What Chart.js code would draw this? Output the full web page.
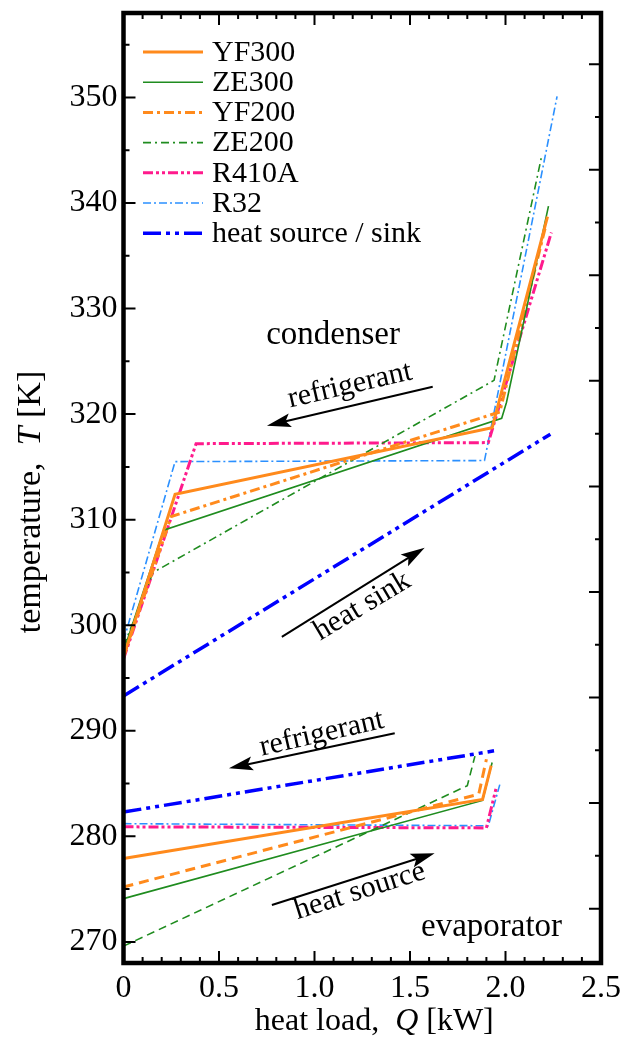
<!DOCTYPE html>
<html>
<head>
<meta charset="utf-8">
<script src="https://cdn.jsdelivr.net/npm/chart.js@4.4.1/dist/chart.umd.min.js"></script>
<style>
html, body { margin: 0; padding: 0; background: #fff; }
#wrap { width: 635px; height: 1043px; position: relative; }
</style>
</head>
<body>
<div id="wrap"><canvas id="myChart"></canvas></div>
<script>
const seriesNames = ['YF300', 'ZE300', 'YF200', 'ZE200', 'R410A', 'R32', 'heat source / sink'];

// condenser side, [Q kW, T K]
const yf300Cond = [[0, 297.0], [0.27, 312.4], [1.93, 318.7], [2.22, 338.7]];
const ze300Cond = [[0, 297.5], [0.21, 309.0], [1.98, 319.6], [2.005, 321.1], [2.225, 339.7]];
const yf200Cond = [[0, 297.0], [0.25, 310.3], [1.97, 320.2], [2.21, 337.8]];
const ze200Cond = [[0, 298.0], [0.155, 305.0], [1.94, 323.2], [2.19, 344.5]];
const r410aCond = [[0, 296.8], [0.38, 317.2], [1.91, 317.3], [2.24, 337.2]];
const r32Cond = [[0, 298.5], [0.27, 315.5], [1.89, 315.6], [2.27, 350.1]];
const sinkLine = [[0, 293.3], [2.235, 318.1]];

// evaporator side
const yf300Evap = [[0, 277.9], [1.88, 283.5], [1.925, 286.7]];
const ze300Evap = [[0, 274.1], [1.88, 283.4], [1.93, 287.0]];
const yf200Evap = [[0, 275.2], [1.86, 284.0], [1.90, 287.3]];
const ze200Evap = [[0, 269.6], [1.80, 284.8], [1.84, 287.6]];
const r410aEvap = [[0, 280.9], [1.90, 280.8], [1.95, 284.5]];
const r32Evap = [[0, 281.2], [1.91, 281.0], [1.97, 284.9]];
const sourceLine = [[0, 282.3], [1.94, 288.1]];

const xTicks = [0, 0.5, 1.0, 1.5, 2.0, 2.5];
const yTicks = [270, 280, 290, 300, 310, 320, 330, 340, 350];

const serif = '"Liberation Serif", "Times New Roman", serif';
const orange = '#ff8a1c', green = '#1f8c1f', pink = '#ff1a8c', sky = '#2b90ff', blue = '#0000ff';

function pts(arr) { return arr.map(p => ({x: p[0], y: p[1]})); }

function ds(label, arr, color, width, dash, inLegend) {
  return {
    label: label, data: pts(arr), borderColor: color, backgroundColor: color,
    borderWidth: width, borderDash: dash, showLine: true, pointRadius: 0,
    tension: 0, fill: false, inLegend: inLegend
  };
}

const datasets = [
  ds(seriesNames[0], yf300Cond, orange, 3, [], true),
  ds(seriesNames[1], ze300Cond, green, 1.6, [], true),
  ds(seriesNames[2], yf200Cond, orange, 3, [10, 4, 3, 4], true),
  ds(seriesNames[3], ze200Cond, green, 1.6, [8, 4, 2, 4], true),
  ds(seriesNames[4], r410aCond, pink, 3, [10, 3, 3, 3, 3, 3], true),
  ds(seriesNames[5], r32Cond, sky, 1.6, [8, 3, 2, 3], true),
  ds(seriesNames[6], sinkLine, blue, 3.5, [18, 5, 4, 5, 4, 5], true),
  ds(seriesNames[0], yf300Evap, orange, 3, [], false),
  ds(seriesNames[1], ze300Evap, green, 1.6, [], false),
  ds(seriesNames[2], yf200Evap, orange, 3, [10, 6], false),
  ds(seriesNames[3], ze200Evap, green, 1.6, [8, 5], false),
  ds(seriesNames[4], r410aEvap, pink, 3, [10, 3, 3, 3, 3, 3], false),
  ds(seriesNames[5], r32Evap, sky, 1.6, [8, 3, 2, 3], false),
  ds(seriesNames[6], sourceLine, blue, 3.5, [18, 5, 4, 5, 4, 5], false)
];

function richText(ctx, parts, cx, cy, size) {
  let total = 0;
  parts.forEach(p => {
    ctx.font = (p[1] ? 'italic ' : '') + size + 'px ' + serif;
    total += ctx.measureText(p[0]).width;
  });
  let x = cx - total / 2;
  ctx.textAlign = 'left';
  ctx.textBaseline = 'middle';
  parts.forEach(p => {
    ctx.font = (p[1] ? 'italic ' : '') + size + 'px ' + serif;
    ctx.fillText(p[0], x, cy);
    x += ctx.measureText(p[0]).width;
  });
}

function arrow(ctx, x1, y1, x2, y2) {
  const a = Math.atan2(y2 - y1, x2 - x1), c = Math.cos(a), s = Math.sin(a);
  const L = 24, W = 7;
  ctx.lineWidth = 2;
  ctx.beginPath();
  ctx.moveTo(x1, y1);
  ctx.lineTo(x2 - 16 * c, y2 - 16 * s);
  ctx.stroke();
  ctx.beginPath();
  ctx.moveTo(x2, y2);
  ctx.lineTo(x2 - L * c + W * s, y2 - L * s - W * c);
  ctx.lineTo(x2 - 0.8 * L * c, y2 - 0.8 * L * s);
  ctx.lineTo(x2 - L * c - W * s, y2 - L * s + W * c);
  ctx.closePath();
  ctx.fill();
}

const notes = [
  {text: 'condenser', q: 1.097, t: 327.5, rot: 0, size: 33},
  {text: 'refrigerant', q: 1.185, t: 322.7, rot: -13, size: 30},
  {text: 'heat sink', q: 1.25, t: 301.8, rot: -31, size: 30},
  {text: 'refrigerant', q: 1.038, t: 289.7, rot: -13, size: 30},
  {text: 'heat source', q: 1.237, t: 274.8, rot: -17.5, size: 30},
  {text: 'evaporator', q: 1.927, t: 271.4, rot: 0, size: 33}
];
const arrows = [
  [1.619, 322.6, 0.751, 318.9],
  [0.829, 298.9, 1.577, 307.35],
  [1.42, 289.76, 0.552, 286.45],
  [0.777, 273.5, 1.629, 278.4]
];

const decor = {
  id: 'decor',
  afterDraw(chart) {
    const ctx = chart.ctx, a = chart.chartArea;
    const xs = chart.scales.x, ys = chart.scales.y;
    ctx.save();
    ctx.strokeStyle = '#000';
    ctx.fillStyle = '#000';

    // inward ticks
    ctx.lineWidth = 2;
    ctx.beginPath();
    for (let i = 1; i < 25; i++) {
      const px = xs.getPixelForValue(i / 10);
      const len = i % 5 === 0 ? 12 : 6;
      ctx.moveTo(px, a.bottom); ctx.lineTo(px, a.bottom - len);
      ctx.moveTo(px, a.top); ctx.lineTo(px, a.top + len);
    }
    for (let v = 270; v < 358; v += 5) {
      const py = ys.getPixelForValue(v);
      const len = v % 10 === 0 ? 12 : 6;
      ctx.moveTo(a.left, py); ctx.lineTo(a.left + len, py);
    }
    for (let c = -5; c <= 85; c += 5) {
      const k = 273.15 + c;
      if (k <= 268.5 || k >= 357.5) continue;
      const py = ys.getPixelForValue(k);
      const len = c % 10 === 0 ? 12 : 6;
      ctx.moveTo(a.right, py); ctx.lineTo(a.right - len, py);
    }
    ctx.stroke();

    // frame
    ctx.lineWidth = 4.5;
    ctx.strokeRect(a.left, a.top, a.right - a.left, a.bottom - a.top);

    // axis titles
    richText(ctx, [['heat load,  ', false], ['Q', true], [' [kW]', false]],
      (a.left + a.right) / 2 + 12, 1022, 32);
    ctx.save();
    ctx.translate(31, 502);
    ctx.rotate(-Math.PI / 2);
    richText(ctx, [['temperature,  ', false], ['T', true], [' [K]', false]], 0, 0, 34);
    ctx.restore();

    // legend
    const legendItems = chart.data.datasets.filter(d => d.inLegend);
    legendItems.forEach((d, i) => {
      const y = 52 + i * 30.2;
      ctx.save();
      ctx.strokeStyle = d.borderColor;
      ctx.lineWidth = d.borderWidth;
      ctx.setLineDash(d.borderDash);
      ctx.beginPath();
      ctx.moveTo(143, y); ctx.lineTo(203, y);
      ctx.stroke();
      ctx.restore();
      ctx.font = '30px ' + serif;
      ctx.textAlign = 'left';
      ctx.textBaseline = 'middle';
      ctx.fillText(d.label, 212, y + 1);
    });

    // annotations
    arrows.forEach(r => arrow(ctx, xs.getPixelForValue(r[0]), ys.getPixelForValue(r[1]),
      xs.getPixelForValue(r[2]), ys.getPixelForValue(r[3])));
    notes.forEach(n => {
      ctx.save();
      ctx.translate(xs.getPixelForValue(n.q), ys.getPixelForValue(n.t));
      ctx.rotate(n.rot * Math.PI / 180);
      ctx.font = n.size + 'px ' + serif;
      ctx.textAlign = 'center';
      ctx.textBaseline = 'middle';
      ctx.fillText(n.text, 0, 0);
      ctx.restore();
    });
    ctx.restore();
  }
};

const chart = new Chart(document.getElementById('myChart').getContext('2d'), {
  type: 'scatter',
  data: {datasets: datasets},
  options: {
    responsive: true,
    maintainAspectRatio: false,
    animation: false,
    events: [],
    layout: {padding: {top: 13, right: 34, left: 0, bottom: 0}},
    plugins: {legend: {display: false}, tooltip: {enabled: false}},
    scales: {
      x: {
        type: 'linear', min: 0, max: 2.5,
        afterFit: s => { s.height = 80; s.paddingLeft = 0; s.paddingRight = 0; },
        afterBuildTicks: s => { s.ticks = xTicks.map(v => ({value: v})); },
        grid: {display: false, drawTicks: false},
        border: {display: false},
        ticks: {
          padding: 6, color: '#000', font: {family: serif, size: 32},
          callback: v => v === 0 ? '0' : v.toFixed(1)
        }
      },
      y: {
        type: 'linear', min: 268, max: 358,
        afterFit: s => { s.width = 123.5; s.paddingTop = 0; s.paddingBottom = 0; },
        afterBuildTicks: s => { s.ticks = yTicks.map(v => ({value: v})); },
        grid: {display: false, drawTicks: false},
        border: {display: false},
        ticks: {padding: 6, color: '#000', font: {family: serif, size: 32}}
      }
    }
  },
  plugins: [decor]
});
</script>
</body>
</html>
